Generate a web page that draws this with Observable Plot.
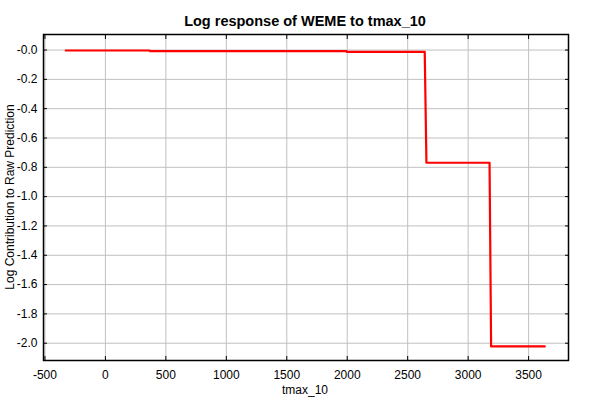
<!DOCTYPE html>
<html>
<head>
<meta charset="utf-8">
<script src="https://cdn.jsdelivr.net/npm/d3@7"></script>
<script src="https://cdn.jsdelivr.net/npm/@observablehq/plot@0.6"></script>
<style>
  html, body { margin: 0; padding: 0; background: #fff; }
  #chart { position: relative; width: 600px; height: 400px; }
  .title { position: absolute; left: 0; width: 610px; top: 13px; text-align: center;
           font: bold 14.5px "Liberation Sans", Arial, sans-serif; }
  .xlab { position: absolute; left: 0; width: 610px; top: 383px; text-align: center;
          font: 12px "Liberation Sans", Arial, sans-serif; }
  .ylab { position: absolute; left: 10px; top: 197px; transform: translate(-50%, -50%) rotate(-90deg);
          white-space: nowrap; font: 12px "Liberation Sans", Arial, sans-serif; }
  svg { position: absolute; left: 0; top: 0; }
</style>
</head>
<body>
<div id="chart">
  <div class="title">Log response of WEME to tmax_10</div>
  <div class="xlab">tmax_10</div>
  <div class="ylab">Log Contribution to Raw Prediction</div>
</div>
<script>
const xValues = [-328, 367, 370, 1995, 1998, 2641, 2655, 3177, 3190, 3634];
const yValues = [-0.003, -0.003, -0.008, -0.008, -0.012, -0.012, -0.769, -0.769, -2.022, -2.022];
const xTicks = [-500, 0, 500, 1000, 1500, 2000, 2500, 3000, 3500];
const yTicks = [0, -0.2, -0.4, -0.6, -0.8, -1.0, -1.2, -1.4, -1.6, -1.8, -2.0];

const data = xValues.map((x, i) => ({x, y: yValues[i]}));
const fmtY = v => (v <= 0 ? "-" + Math.abs(v).toFixed(1) : v.toFixed(1));
const fmtX = v => String(v);

const plot = Plot.plot({
  width: 600,
  height: 400,
  marginLeft: 43,
  marginRight: 32,
  marginTop: 34,
  marginBottom: 40,
  style: { fontFamily: "'Liberation Sans', Arial, sans-serif", fontSize: "12px", color: "#000", background: "transparent" },
  x: { domain: [-512, 3830], ticks: xTicks, label: null },
  y: { domain: [-2.118, 0.106], ticks: yTicks, label: null },
  marks: [
    Plot.gridX(xTicks, { stroke: "#c0c0c0", strokeOpacity: 1, strokeWidth: 1 }),
    Plot.gridY(yTicks, { stroke: "#c0c0c0", strokeOpacity: 1, strokeWidth: 1 }),
    Plot.axisX(xTicks, { tickSize: -4, tickPadding: 14, tickFormat: fmtX, fontSize: 12, stroke: "#000" }),
    Plot.axisX(xTicks, { anchor: "top", tickSize: -4, text: null, label: null }),
    Plot.axisY(yTicks, { tickSize: -4, tickPadding: 10, tickFormat: fmtY, fontSize: 12 }),
    Plot.axisY(yTicks, { anchor: "right", tickSize: -4, text: null, label: null }),
    Plot.frame({ stroke: "#000", strokeWidth: 1.5 }),
    Plot.line(data, { x: "x", y: "y", stroke: "#ff0000", strokeWidth: 2.2, curve: "linear" })
  ]
});
document.getElementById("chart").appendChild(plot);
</script>
</body>
</html>
